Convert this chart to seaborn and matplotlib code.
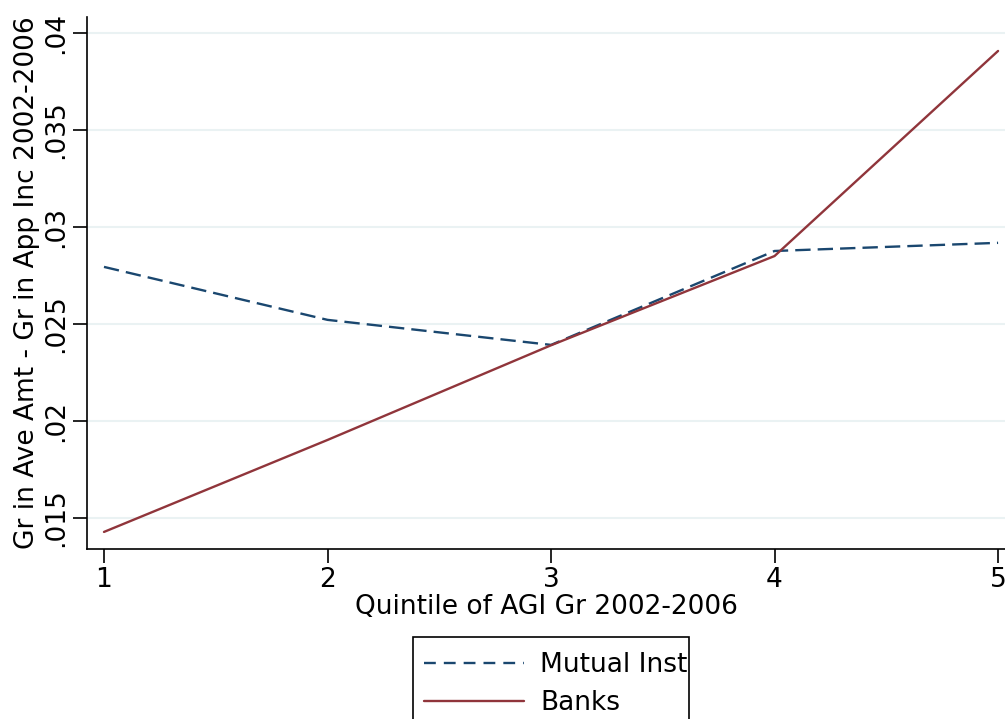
import matplotlib
matplotlib.use("Agg")
import matplotlib.pyplot as plt
import seaborn as sns
import pandas as pd
from matplotlib.lines import Line2D
from matplotlib.patches import Rectangle

quintiles = [1, 2, 3, 4, 5]
mutual = [0.02794, 0.02521, 0.02392, 0.02876, 0.02918]
banks = [0.01428, 0.01902, 0.02390, 0.02850, 0.03907]
yticks = [0.015, 0.02, 0.025, 0.03, 0.035, 0.04]
ytick_labels = [".015", ".02", ".025", ".03", ".035", ".04"]

df = pd.concat([
    pd.DataFrame({"q": quintiles, "v": mutual, "s": "Mutual Inst"}),
    pd.DataFrame({"q": quintiles, "v": banks, "s": "Banks"}),
])

sns.set_style("white")
plt.rcParams["font.family"] = ["DejaVu Sans"]
plt.rcParams.update({"text.color": "black", "axes.labelcolor": "black",
                     "xtick.color": "black", "ytick.color": "black"})

NAVY = "#1a476f"
MAROON = "#90353b"
FS = 19
LW = 1.7

fig = plt.figure(figsize=(10.05, 7.19), dpi=100)
ax = fig.add_axes([87/1005, 1 - 549/719, 1 - 87/1005, (549 - 17)/719])

sns.lineplot(data=df, x="q", y="v", hue="s", style="s",
             palette={"Mutual Inst": NAVY, "Banks": MAROON},
             dashes={"Mutual Inst": (6.5, 3.0), "Banks": ""},
             linewidth=LW, ax=ax, legend=False)

ax.set_xlim(0.924, 5.031)
ax.set_ylim(0.0134, 0.04082)
ax.set_yticks(yticks)
ax.set_yticklabels(ytick_labels, rotation=90, va="center")
ax.set_xticks(quintiles)
ax.set_xticklabels([str(q) for q in quintiles])
ax.yaxis.grid(True, color="#eaf2f3", linewidth=1.5)
ax.xaxis.grid(False)
ax.tick_params(axis="both", direction="out", length=10, width=1.2, labelsize=FS,
               color="black", left=True, bottom=True, pad=3)
for side in ["top", "right"]:
    ax.spines[side].set_visible(False)
for side in ["left", "bottom"]:
    ax.spines[side].set_color("black")
    ax.spines[side].set_linewidth(1.2)

ax.set_xlabel("Quintile of AGI Gr 2002-2006", fontsize=FS, labelpad=1)
ax.set_ylabel("Gr in Ave Amt - Gr in App Inc 2002-2006", fontsize=FS, labelpad=2)

handles = [Line2D([], [], color=NAVY, linestyle=(0, (5, 3.4)), linewidth=LW),
           Line2D([], [], color=MAROON, linewidth=LW)]
leg = fig.legend(handles, ["Mutual Inst", "Banks"], loc="upper left",
                 bbox_to_anchor=(409/1005, 1 - 637/719), fontsize=FS,
                 frameon=False, handlelength=3.8, handletextpad=0.6,
                 borderpad=0.56, labelspacing=0.46, borderaxespad=0)

# legend box (Stata-style, narrower than text)
fig.patches.append(Rectangle((413/1005, -0.05), (689 - 413)/1005, (719 - 637)/719 + 0.05,
                             transform=fig.transFigure, fill=False,
                             edgecolor="black", linewidth=1.2, figure=fig))

fig.savefig("out.png", dpi=100)
